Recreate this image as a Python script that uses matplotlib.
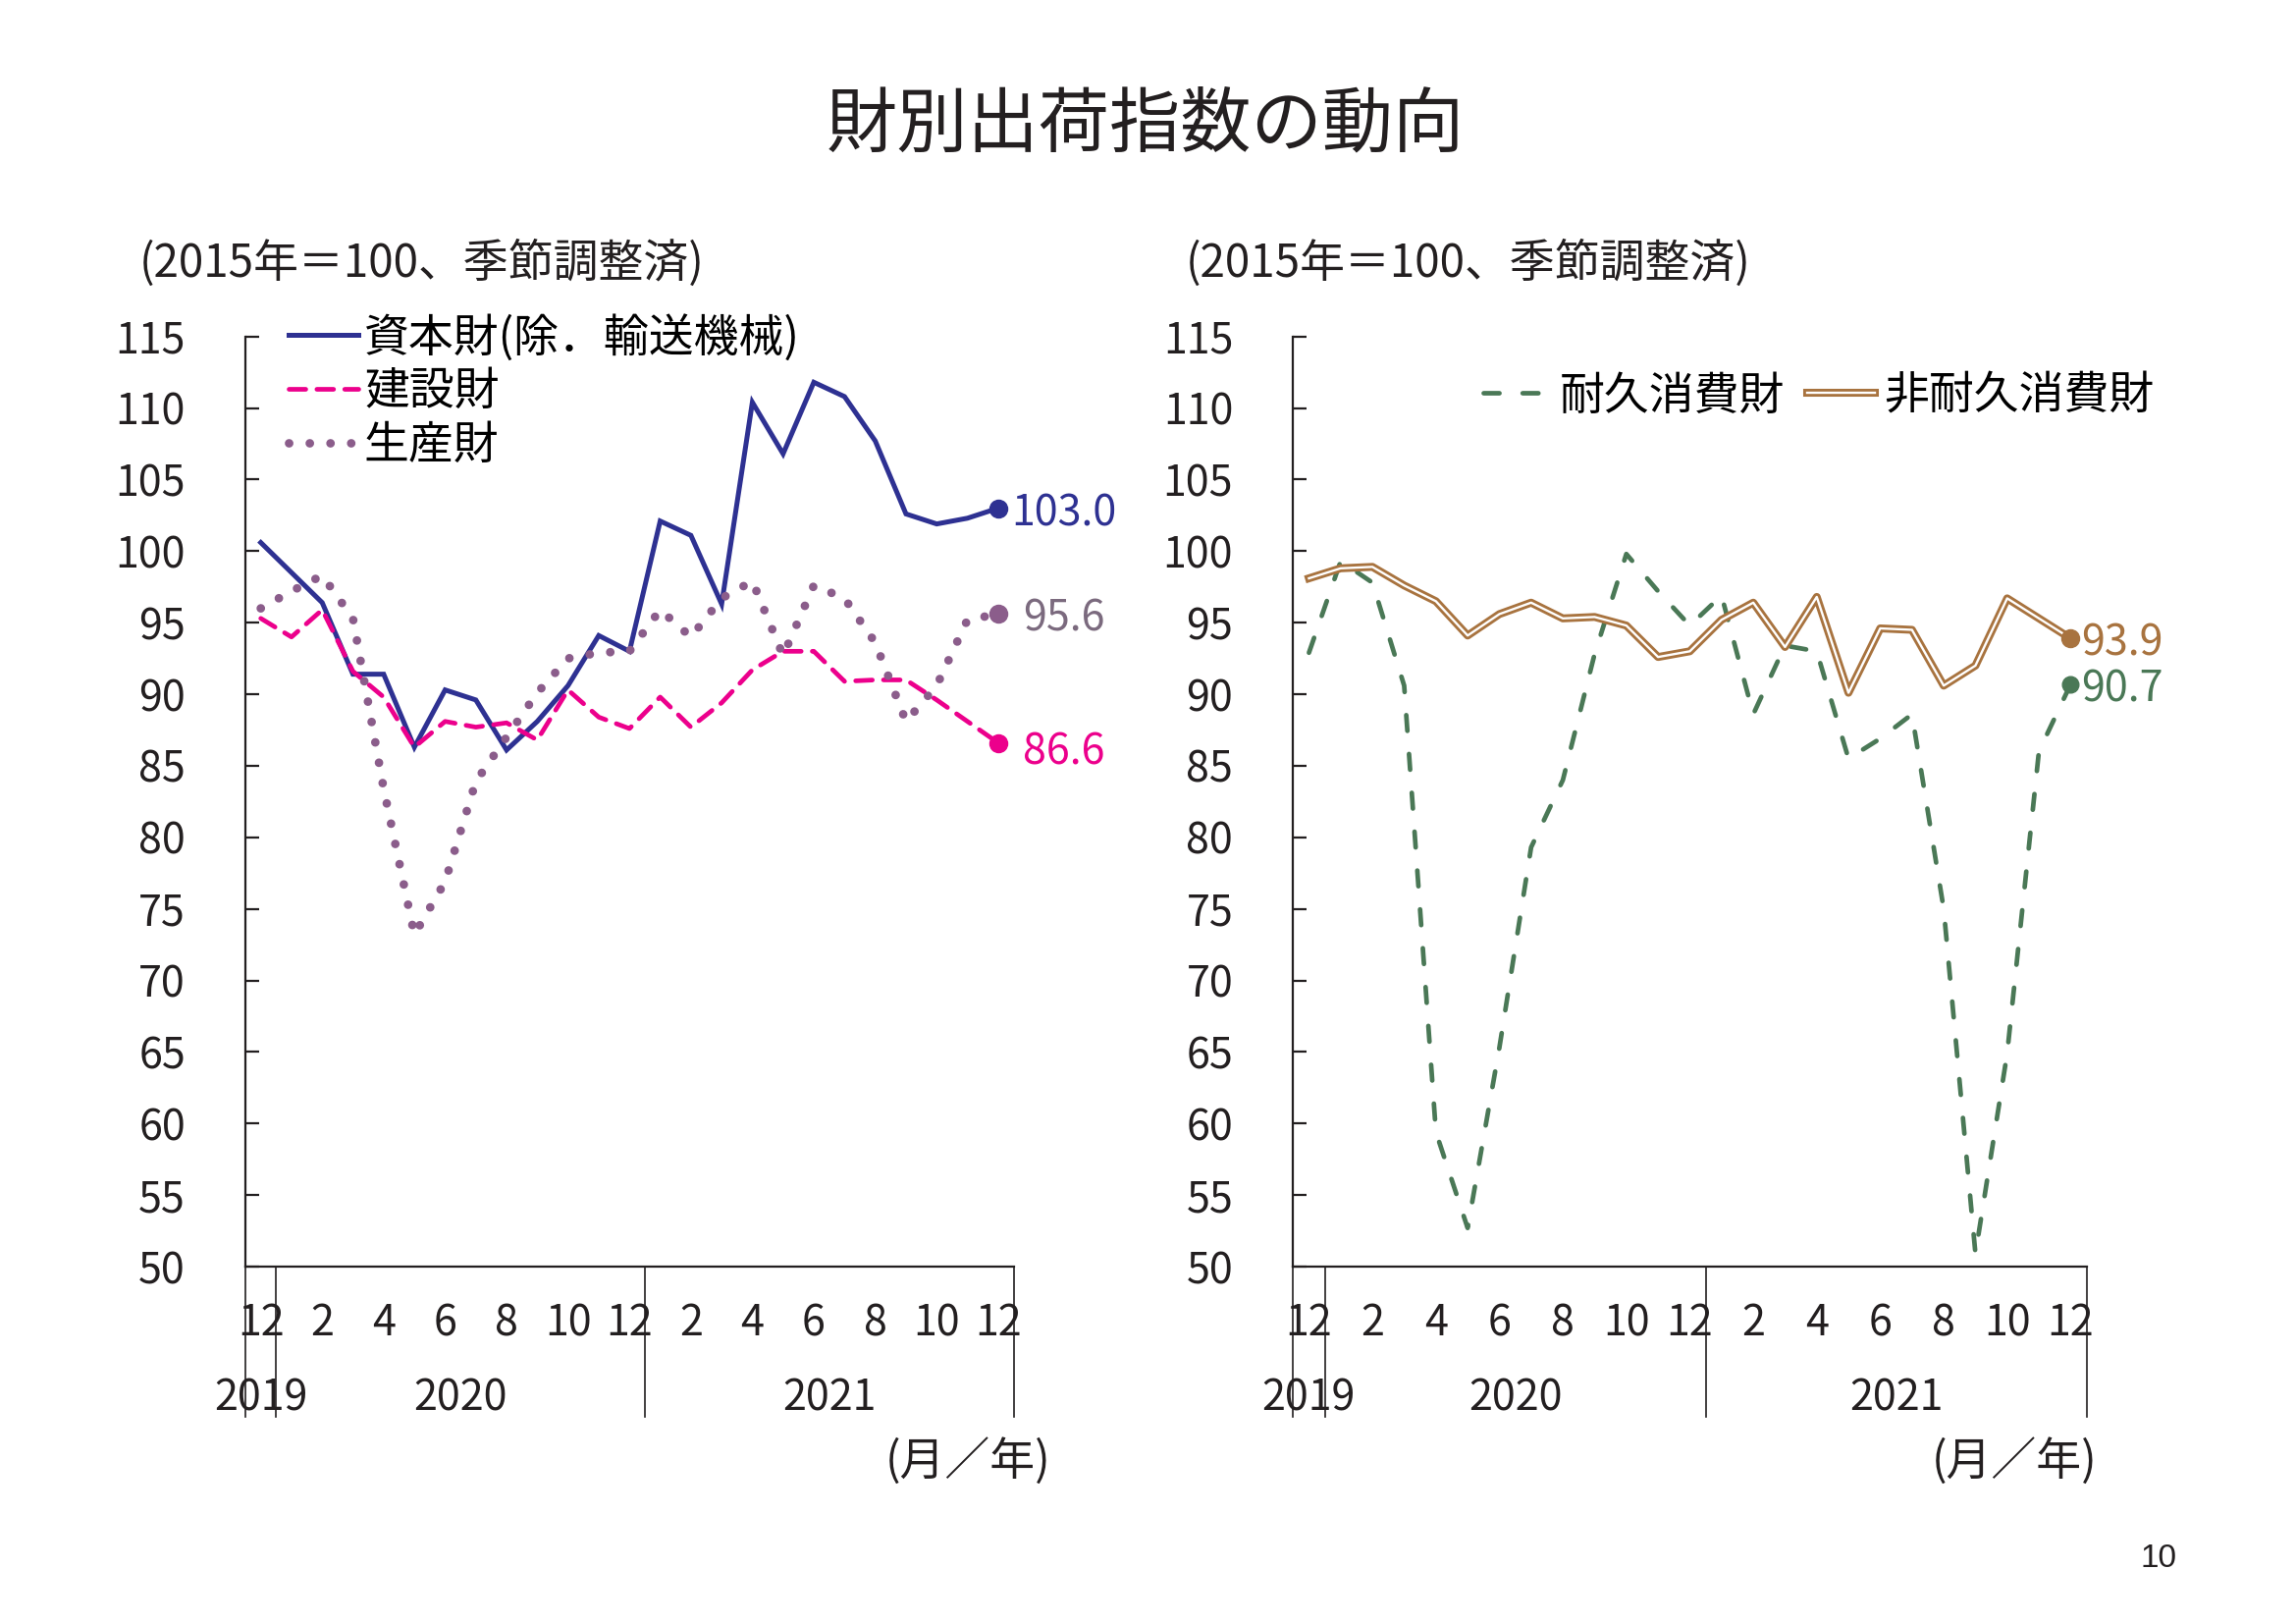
import matplotlib
matplotlib.use('Agg')
import matplotlib.pyplot as plt
import matplotlib.patheffects as pe
from matplotlib.transforms import blended_transform_factory
import numpy as np

plt.rcParams['font.family'] = ['Noto Sans CJK JP', 'DejaVu Sans']

# ---------------- data ----------------
months = ['2019-12', '2020-01', '2020-02', '2020-03', '2020-04', '2020-05', '2020-06',
          '2020-07', '2020-08', '2020-09', '2020-10', '2020-11', '2020-12',
          '2021-01', '2021-02', '2021-03', '2021-04', '2021-05', '2021-06',
          '2021-07', '2021-08', '2021-09', '2021-10', '2021-11', '2021-12']
month_tick_labels = ['12', '2', '4', '6', '8', '10', '12', '2', '4', '6', '8', '10', '12']
year_labels = ['2019', '2020', '2021']
year_centers = [0, 6.5, 18.5]
year_bounds = [-0.5, 0.5, 12.5, 24.5]

capital = [100.6, 98.5, 96.4, 91.4, 91.4, 86.3, 90.3, 89.6, 86.1, 88.1, 90.6, 94.1, 93.0,
           102.1, 101.1, 96.3, 110.4, 106.8, 111.8, 110.8, 107.7, 102.6, 101.9, 102.3, 103.0]
construction = [95.3, 94.0, 95.9, 91.6, 89.8, 86.3, 88.1, 87.7, 88.0, 86.8, 90.3, 88.4, 87.6,
                89.8, 87.7, 89.4, 91.7, 93.0, 93.0, 90.9, 91.0, 91.0, 89.6, 88.1, 86.6]
production = [96.0, 97.2, 98.3, 95.3, 83.4, 73.2, 76.9, 83.9, 87.0, 90.1, 92.5, 92.9, 93.0,
              95.9, 94.0, 96.7, 97.9, 92.7, 97.6, 96.7, 93.6, 88.1, 90.6, 95.2, 95.6]
durable = [92.9, 99.3, 97.8, 90.6, 59.4, 52.7, 65.3, 79.3, 84.0, 92.8, 99.8, 97.2, 94.8,
           96.9, 88.6, 93.4, 93.0, 85.5, 86.9, 88.6, 75.0, 50.9, 64.9, 86.0, 90.7]
nondurable = [98.1, 98.8, 98.9, 97.6, 96.5, 94.1, 95.6, 96.4, 95.3, 95.4, 94.8, 92.6, 93.0,
              95.2, 96.4, 93.3, 96.8, 90.1, 94.6, 94.5, 90.6, 92.0, 96.7, 95.3, 93.9]

names_left = ['資本財(除．輸送機械)', '建設財', '生産財']
names_right = ['耐久消費財', '非耐久消費財']

# ---------------- style ----------------
INK = '#231F20'
NAVY = '#2E3192'
MAGENTA = '#EC008C'
PURPLE = '#8B5D8B'
PURPLE_TXT = '#7B6A7E'
GREEN = '#4A7856'
BROWN = '#A8733F'
FS = 31

W, H = 2339, 1654
fig = plt.figure(figsize=(W / 100, H / 100), dpi=100)


def px_axes(l, r, t, b):
    return fig.add_axes([l / W, 1 - b / H, (r - l) / W, (b - t) / H])


axL = px_axes(250, 1032.5, 342.7, 1290)
axR = px_axes(1317.3, 2125.6, 342.7, 1290)

x = np.arange(len(months))

for ax in (axL, axR):
    ax.set_xlim(-0.5, len(months) - 0.5)
    ax.set_ylim(50, 115)
    ax.set_yticks(np.arange(50, 116, 5))
    for s in ('top', 'right'):
        ax.spines[s].set_visible(False)
    for s in ('left', 'bottom'):
        ax.spines[s].set_linewidth(1.6)
        ax.spines[s].set_color(INK)
    ax.tick_params(axis='y', direction='in', length=10, width=1.6, pad=44,
                   labelsize=FS, colors=INK)
    ax.set_xticks(x[::2], month_tick_labels)
    ax.tick_params(axis='x', length=0, pad=26, labelsize=FS, colors=INK)
    tr = blended_transform_factory(ax.transData, ax.transAxes)
    for xb in year_bounds:
        ax.plot([xb, xb], [0, -0.1616], transform=tr, color=INK, lw=1.2,
                clip_on=False, zorder=5)
    for xc, yl in zip(year_centers, year_labels):
        ax.text(xc, -0.1415, yl, transform=tr, ha='center', va='center',
                fontsize=FS, color=INK)

# ---------------- left chart ----------------
l1, = axL.plot(x, capital, color=NAVY, lw=3.6, solid_joinstyle='miter',
               label=names_left[0], zorder=3)
l2, = axL.plot(x, construction, color=MAGENTA, lw=3.4, linestyle=(0, (3.6, 2.4)),
               dash_capstyle='round', label=names_left[1], zorder=4)
l3, = axL.plot(x, production, color=PURPLE, lw=6.3, linestyle=(0, (0.01, 2.4)),
               dash_capstyle='round', label=names_left[2], zorder=5)
axL.plot(x[-1], capital[-1], 'o', color=NAVY, ms=13, zorder=6)
axL.plot(x[-1], construction[-1], 'o', color=MAGENTA, ms=13, zorder=6)
axL.plot(x[-1], production[-1], 'o', color=PURPLE, ms=13, zorder=6)

axL.annotate(f'{capital[-1]:.1f}', (x[-1], capital[-1]), xytext=(10, -4),
             textcoords='offset points', va='center', ha='left', fontsize=FS, color=NAVY)
axL.annotate(f'{production[-1]:.1f}', (x[-1], production[-1]), xytext=(18, -4),
             textcoords='offset points', va='center', ha='left', fontsize=FS, color=PURPLE_TXT)
axL.annotate(f'{construction[-1]:.1f}', (x[-1], construction[-1]), xytext=(18, -7),
             textcoords='offset points', va='center', ha='left', fontsize=FS, color=MAGENTA)

axL.legend(handles=[l1, l2, l3], loc='upper left', bbox_to_anchor=(294 / W, 1 - 320 / H),
           bbox_transform=fig.transFigure, frameon=False, fontsize=33,
           handlelength=1.55, handletextpad=0.13, labelspacing=0.14,
           borderpad=0, borderaxespad=0)

# ---------------- right chart ----------------
r1, = axR.plot(x, durable, color=GREEN, lw=3.4, linestyle=(0, (3.4, 5.0)),
               dash_capstyle='round', label=names_right[0], zorder=3)
r2, = axR.plot(x, nondurable, color='white', lw=1.7, label=names_right[1], zorder=4,
               path_effects=[pe.Stroke(linewidth=5.8, foreground=BROWN), pe.Normal()])
axR.plot(x[-1], nondurable[-1], 'o', color=BROWN, ms=13, zorder=6)
axR.plot(x[-1], durable[-1], 'o', color=GREEN, ms=12, zorder=6)
axR.annotate(f'{nondurable[-1]:.1f}', (x[-1], nondurable[-1]), xytext=(8, -3.5),
             textcoords='offset points', va='center', ha='left', fontsize=FS, color=BROWN)
axR.annotate(f'{durable[-1]:.1f}', (x[-1], durable[-1]), xytext=(8, -4),
             textcoords='offset points', va='center', ha='left', fontsize=FS, color=GREEN)

axR.legend(handles=[r1, r2], loc='upper left', bbox_to_anchor=(1511 / W, 1 - 379 / H),
           bbox_transform=fig.transFigure, frameon=False, fontsize=33, ncol=2,
           handlelength=1.5, handletextpad=0.2, columnspacing=0.5,
           borderpad=0, borderaxespad=0)

# ---------------- texts ----------------
fig.text(1167 / W, 1 - 128 / H, '財別出荷指数の動向', ha='center', va='center',
         fontsize=52, color=INK)
fig.text(142 / W, 1 - 269 / H, '(2015年＝100、季節調整済)', ha='left', va='center',
         fontsize=33, color=INK)
fig.text(1208 / W, 1 - 269 / H, '(2015年＝100、季節調整済)', ha='left', va='center',
         fontsize=33, color=INK)
fig.text(1071 / W, 1 - 1489 / H, '(月／年)', ha='right', va='center', fontsize=33, color=INK)
fig.text(2136 / W, 1 - 1489 / H, '(月／年)', ha='right', va='center', fontsize=33, color=INK)
fig.text(2199 / W, 1 - 1588 / H, '10', ha='center', va='center', fontsize=24, color=INK,
         family=['Liberation Sans', 'DejaVu Sans'])

fig.savefig('out.png', dpi=100, facecolor='white')
